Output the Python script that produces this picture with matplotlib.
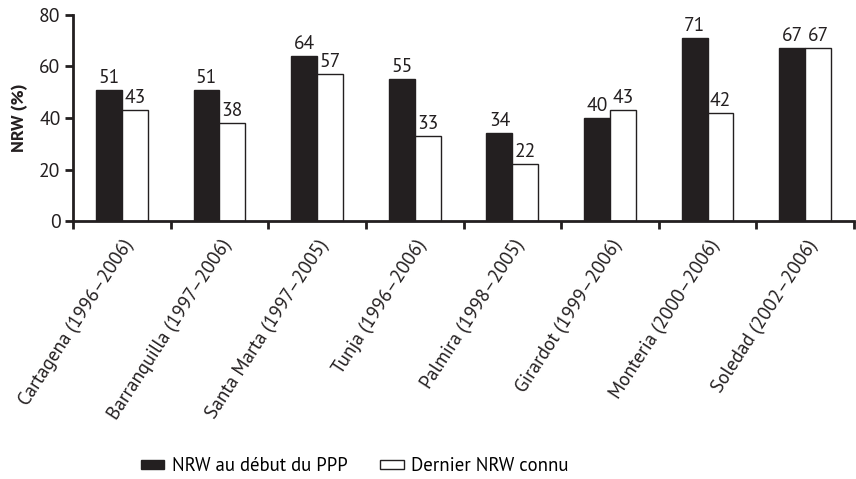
import numpy as np
import matplotlib.pyplot as plt
import matplotlib.transforms as mtransforms
from matplotlib.patches import Patch
from matplotlib import font_manager as fm

villes = ['Cartagena (1996–2006)', 'Barranquilla (1997–2006)', 'Santa Marta (1997–2005)',
          'Tunja (1996–2006)', 'Palmira (1998–2005)', 'Girardot (1999–2006)',
          'Monteria (2000–2006)', 'Soledad (2002–2006)']
nrw_debut = [51, 51, 64, 55, 34, 40, 71, 67]
nrw_dernier = [43, 38, 57, 33, 22, 43, 42, 67]

# police humaniste proche du Frutiger si disponible
dispo = set(f.name for f in fm.fontManager.ttflist)
police = 'DejaVu Sans'
for nom in ['PT Sans', 'Fira Sans Condensed', 'Roboto Condensed', 'Liberation Sans Narrow']:
    if nom in dispo:
        police = nom
        break
plt.rcParams['font.family'] = [police, 'DejaVu Sans']

fig = plt.figure(figsize=(8.56, 4.79), dpi=100)
ax = fig.add_axes([0.0853, 0.5386, 0.9124, 0.4301])

x = np.arange(len(villes))
w = 0.265
noir = '#231f20'
ax.bar(x - w/2, nrw_debut, w, color=noir, edgecolor=noir, linewidth=1)
ax.bar(x + w/2, nrw_dernier, w, color='white', edgecolor=noir, linewidth=1)

for i in range(len(villes)):
    ax.text(x[i] - w/2, nrw_debut[i] + 1.2, str(nrw_debut[i]), ha='center', va='bottom',
            fontsize=14, color=noir)
    ax.text(x[i] + w/2, nrw_dernier[i] + 1.2, str(nrw_dernier[i]), ha='center', va='bottom',
            fontsize=14, color=noir)

ax.set_xlim(-0.5, len(villes) - 0.5)
ax.set_ylim(0, 80)
ax.set_yticks([0, 20, 40, 60, 80])
ax.set_ylabel('NRW (%)', fontsize=13, fontweight='bold', color=noir, labelpad=8)

# ticks entre les catégories, étiquettes au centre
ax.set_xticks(np.arange(len(villes) + 1) - 0.5)
ax.set_xticklabels([])
ax.set_xticks(x, minor=True)
ax.set_xticklabels(villes, minor=True, rotation=57, ha='right', rotation_mode='anchor',
                   fontsize=13.8, color=noir)
decal = mtransforms.ScaledTranslation(-4/72, 0, fig.dpi_scale_trans)
for lab in ax.get_xticklabels(minor=True):
    lab.set_transform(lab.get_transform() + decal)
ax.tick_params(axis='x', which='minor', length=0, pad=11)
ax.tick_params(axis='x', which='major', length=6, width=2, color=noir)
ax.tick_params(axis='y', length=6, width=2, color=noir, labelsize=14, labelcolor=noir, pad=3)

for s in ['top', 'right']:
    ax.spines[s].set_visible(False)
for s in ['left', 'bottom']:
    ax.spines[s].set_linewidth(2)
    ax.spines[s].set_color(noir)

handles = [Patch(facecolor=noir, edgecolor=noir, label='NRW au début du PPP'),
           Patch(facecolor='white', edgecolor=noir, label='Dernier NRW connu')]
fig.legend(handles=handles, loc='center left', bbox_to_anchor=(0.1647, 0.027), ncol=2,
           frameon=False, fontsize=13.5, borderpad=0, borderaxespad=0,
           handlelength=1.25, handleheight=0.4, columnspacing=1.75, handletextpad=0.4)

fig.savefig('out.png', dpi=100)
